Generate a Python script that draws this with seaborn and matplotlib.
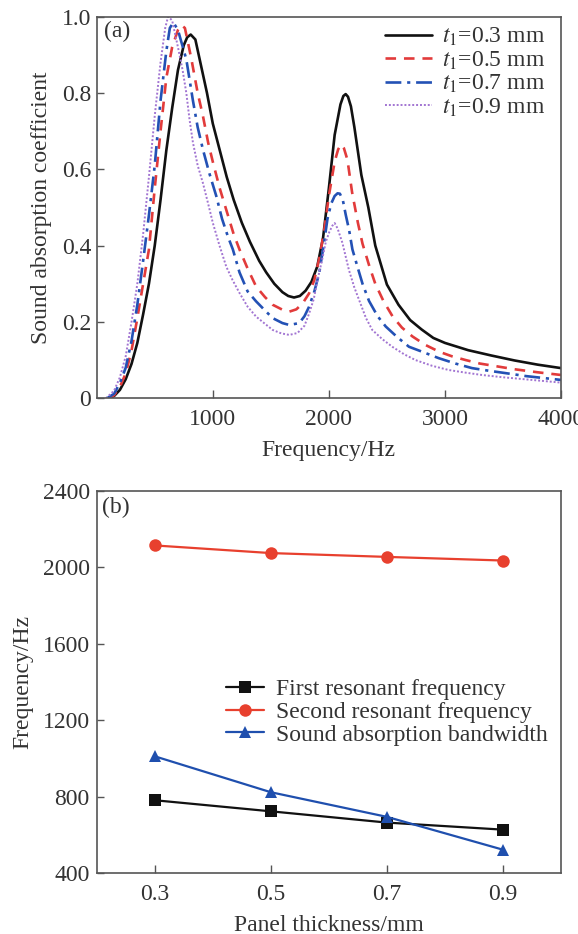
import matplotlib
matplotlib.use("Agg")
import matplotlib.pyplot as plt
import seaborn as sns
import pandas as pd
from matplotlib.ticker import FixedLocator

# ---------------- data: panel (a) ----------------
f_03 = [110, 150, 200, 250, 300, 350, 400, 450, 500, 550, 600, 650, 700, 750, 780, 810, 850, 900,
        950, 1000, 1060, 1120, 1180, 1250, 1320, 1400, 1460, 1530, 1600, 1650, 1700, 1750, 1800,
        1850, 1900, 1950, 2000, 2050, 2100, 2125, 2145, 2165, 2190, 2220, 2280, 2340, 2400, 2500,
        2600, 2700, 2800, 2900, 3000, 3200, 3400, 3600, 3800, 4000]
a_03 = [0.0, 0.006, 0.022, 0.05, 0.09, 0.145, 0.22, 0.30, 0.40, 0.52, 0.65, 0.76, 0.86, 0.925,
        0.946, 0.953, 0.94, 0.87, 0.80, 0.72, 0.65, 0.58, 0.52, 0.46, 0.41, 0.36, 0.33, 0.30,
        0.278, 0.268, 0.264, 0.268, 0.282, 0.305, 0.345, 0.42, 0.55, 0.69, 0.77, 0.792, 0.797,
        0.79, 0.765, 0.71, 0.585, 0.50, 0.40, 0.298, 0.245, 0.205, 0.18, 0.158, 0.145, 0.126,
        0.112, 0.099, 0.088, 0.079]

f_05 = [100, 150, 200, 250, 300, 350, 400, 450, 500, 550, 600, 650, 700, 730, 760, 815, 870, 915,
        960, 1000, 1060, 1120, 1180, 1230, 1300, 1373, 1450, 1516, 1600, 1660, 1720, 1775, 1830,
        1875, 1920, 1960, 2000, 2050, 2080, 2105, 2130, 2160, 2200, 2250, 2290, 2350, 2400, 2470,
        2550, 2630, 2720, 2830, 2950, 3060, 3180, 3300, 3460, 3600, 3800, 4000]
a_05 = [0.0, 0.008, 0.03, 0.065, 0.125, 0.21, 0.30, 0.39, 0.55, 0.70, 0.84, 0.92, 0.965, 0.978,
        0.97, 0.89, 0.80, 0.74, 0.67, 0.62, 0.55, 0.49, 0.43, 0.39, 0.34, 0.293, 0.265, 0.245,
        0.232, 0.227, 0.233, 0.249, 0.275, 0.31, 0.37, 0.44, 0.53, 0.62, 0.652, 0.665, 0.655,
        0.625, 0.54, 0.46, 0.405, 0.345, 0.30, 0.255, 0.214, 0.185, 0.162, 0.14, 0.122, 0.11,
        0.10, 0.091, 0.083, 0.076, 0.068, 0.061]

f_07 = [90, 150, 200, 250, 300, 350, 400, 450, 500, 550, 600, 630, 660, 700, 772, 829, 870, 915,
        970, 1030, 1080, 1130, 1173, 1230, 1300, 1373, 1450, 1516, 1600, 1660, 1745, 1790, 1830,
        1875, 1917, 1960, 1988, 2020, 2050, 2075, 2095, 2120, 2146, 2175, 2203, 2246, 2290, 2346,
        2420, 2490, 2590, 2690, 2820, 2947, 3090, 3233, 3380, 3519, 3700, 3850, 4000]
a_07 = [0.0, 0.012, 0.04, 0.08, 0.15, 0.245, 0.36, 0.48, 0.61, 0.78, 0.91, 0.97, 0.985, 0.965,
        0.888, 0.78, 0.71, 0.652, 0.59, 0.53, 0.47, 0.424, 0.39, 0.33, 0.28, 0.254, 0.23, 0.21,
        0.197, 0.192, 0.197, 0.215, 0.24, 0.28, 0.328, 0.41, 0.47, 0.51, 0.53, 0.537, 0.536,
        0.52, 0.48, 0.44, 0.39, 0.345, 0.30, 0.255, 0.215, 0.188, 0.16, 0.135, 0.12, 0.105,
        0.091, 0.079, 0.072, 0.066, 0.058, 0.053, 0.048]

f_09 = [80, 150, 200, 250, 300, 350, 400, 450, 500, 550, 590, 615, 650, 700, 740, 772, 800, 829,
        870, 915, 960, 1001, 1058, 1116, 1170, 1230, 1300, 1373, 1450, 1516, 1590, 1659, 1730,
        1790, 1831, 1870, 1902, 1940, 1974, 2003, 2030, 2050, 2075, 2117, 2146, 2174, 2220, 2260,
        2320, 2374, 2460, 2546, 2650, 2747, 2890, 3033, 3180, 3319, 3500, 3750, 4000]
a_09 = [0.0, 0.02, 0.055, 0.11, 0.20, 0.30, 0.43, 0.58, 0.74, 0.88, 0.97, 1.0, 0.99, 0.92, 0.86,
        0.80, 0.73, 0.67, 0.61, 0.564, 0.51, 0.459, 0.40, 0.345, 0.31, 0.276, 0.24, 0.214, 0.195,
        0.179, 0.17, 0.166, 0.171, 0.19, 0.223, 0.26, 0.31, 0.36, 0.41, 0.435, 0.452, 0.459,
        0.445, 0.407, 0.37, 0.335, 0.29, 0.258, 0.21, 0.179, 0.155, 0.135, 0.115, 0.10, 0.085,
        0.074, 0.067, 0.061, 0.055, 0.048, 0.041]

labels_a = [r"$t_1$=0.3 mm", r"$t_1$=0.5 mm", r"$t_1$=0.7 mm", r"$t_1$=0.9 mm"]
xticks_a = [1000, 2000, 3000, 4000]
yticks_a = [0, 0.2, 0.4, 0.6, 0.8, 1.0]
yticklabels_a = ["0", "0.2", "0.4", "0.6", "0.8", "1.0"]

# ---------------- data: panel (b) ----------------
thickness = [0.3, 0.5, 0.7, 0.9]
first_res = [781, 723, 664, 627]
second_res = [2115, 2075, 2055, 2036]
bandwidth = [1011, 823, 694, 522]
labels_b = ["First resonant frequency", "Second resonant frequency", "Sound absorption bandwidth"]
yticks_b = [400, 800, 1200, 1600, 2000, 2400]

# ---------------- style ----------------
sns.set_theme(style="ticks")
plt.rcParams["font.family"] = ["Liberation Serif", "DejaVu Serif"]
plt.rcParams["mathtext.fontset"] = "stix"
plt.rcParams["axes.edgecolor"] = "#555555"
plt.rcParams["axes.linewidth"] = 1.2
plt.rcParams["xtick.direction"] = "in"
plt.rcParams["ytick.direction"] = "in"
plt.rcParams["xtick.color"] = "#555555"
plt.rcParams["ytick.color"] = "#555555"
plt.rcParams["xtick.labelcolor"] = "#333333"
plt.rcParams["ytick.labelcolor"] = "#333333"

FS = 17
TXT = "#333333"

fig = plt.figure(figsize=(5.78, 9.34), dpi=100)
ax1 = fig.add_axes([0.1673, 0.5736, 0.8033, 0.4086])
ax2 = fig.add_axes([0.1673, 0.0653, 0.8033, 0.4090])

# panel (a)
rows = []
for f, a, lab in zip([f_03, f_05, f_07, f_09], [a_03, a_05, a_07, a_09], labels_a):
    for fi, ai in zip(f, a):
        rows.append({"f": fi, "a": ai, "t": lab})
df_a = pd.DataFrame(rows)

styles = [
    dict(color="#111111", lw=1.9, ls="-"),
    dict(color="#e23b3b", lw=1.9, ls=(0, (4, 3))),
    dict(color="#2351b5", lw=1.9, ls=(0, (6, 2.2, 1.2, 2.2))),
    dict(color="#a275d2", lw=1.4, ls=(0, (1, 1))),
]
for lab, st in zip(labels_a, styles):
    sub = df_a[df_a["t"] == lab]
    sns.lineplot(data=sub, x="f", y="a", ax=ax1, label=lab, color=st["color"],
                 linewidth=st["lw"], linestyle=st["ls"], estimator=None, sort=False)

ax1.set_xlim(0, 4000)
ax1.set_ylim(0, 1.0)
ax1.xaxis.set_major_locator(FixedLocator(xticks_a))
ax1.set_xticklabels([str(v) for v in xticks_a])
ax1.set_yticks(yticks_a)
ax1.set_yticklabels(yticklabels_a)
ax1.tick_params(axis="x", labelsize=FS, length=6, width=1.0, pad=8)
ax1.tick_params(axis="y", labelsize=FS, length=5, width=1.0, pad=4)
ax1.set_xlabel("Frequency/Hz", fontsize=FS, color=TXT, labelpad=7)
ax1.set_ylabel("Sound absorption coefficient", fontsize=FS, color=TXT, labelpad=7)
ax1.text(0.015, 0.988, "(a)", transform=ax1.transAxes, fontsize=FS, va="top", ha="left",
         color=TXT)
leg = ax1.legend(loc="upper left", bbox_to_anchor=(0.621, 0.975), frameon=False, fontsize=FS,
                 handlelength=2.0, labelspacing=0.05, borderaxespad=0.0, borderpad=0.0,
                 handletextpad=0.4)
for t in leg.get_texts():
    t.set_color(TXT)

# panel (b)
df_b = pd.DataFrame({
    "x": thickness * 3,
    "y": first_res + second_res + bandwidth,
    "s": [labels_b[0]] * 4 + [labels_b[1]] * 4 + [labels_b[2]] * 4,
})
colors_b = ["#111111", "#e8402e", "#1f4fae"]
markers_b = ["s", "o", "^"]
for lab, c, m in zip(labels_b, colors_b, markers_b):
    sub = df_b[df_b["s"] == lab]
    sns.lineplot(data=sub, x="x", y="y", ax=ax2, label=lab, color=c, marker=m,
                 markersize=8 if m != "o" else 9, markeredgewidth=0, linewidth=1.6,
                 estimator=None, sort=False)

ax2.set_xlim(0.2, 1.0)
ax2.set_ylim(400, 2400)
ax2.set_xticks(thickness)
ax2.set_xticklabels(["0.3", "0.5", "0.7", "0.9"])
ax2.set_yticks(yticks_b)
ax2.set_yticklabels([str(v) for v in yticks_b])
ax2.tick_params(axis="x", labelsize=FS, length=6, width=1.0, pad=8)
ax2.tick_params(axis="y", labelsize=FS, length=5, width=1.0, pad=5)
ax2.set_xlabel("Panel thickness/mm", fontsize=FS, color=TXT, labelpad=7)
ax2.set_ylabel("Frequency/Hz", fontsize=FS, color=TXT, labelpad=7)
ax2.text(0.012, 0.985, "(b)", transform=ax2.transAxes, fontsize=FS, va="top", ha="left",
         color=TXT)
leg2 = ax2.legend(loc="center left", bbox_to_anchor=(0.279, 0.421), frameon=False, fontsize=FS,
                  handlelength=1.6, labelspacing=0.05, borderpad=0.0, borderaxespad=0.0,
                  handletextpad=0.5)
for t in leg2.get_texts():
    t.set_color(TXT)

fig.savefig("out.png", dpi=100)
